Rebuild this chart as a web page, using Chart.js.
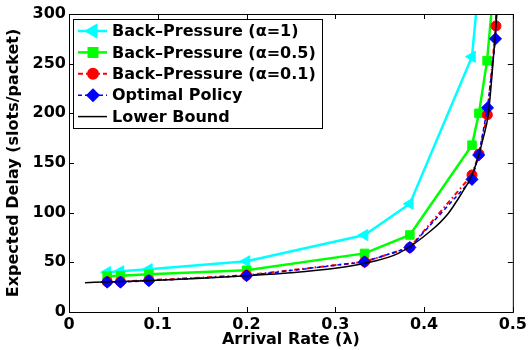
<!DOCTYPE html>
<html>
<head>
<meta charset="utf-8">
<script src="https://cdn.jsdelivr.net/npm/chart.js@4.4.1/dist/chart.umd.min.js"></script>
<style>
  html, body { margin: 0; padding: 0; background: #fff; }
  #wrap { width: 530px; height: 350px; }
</style>
</head>
<body>
<div id="wrap"><canvas id="delayChart"></canvas></div>
<script>
// Values
const seriesLabels = ['Back\u2013Pressure (\u03b1=1)', 'Back\u2013Pressure (\u03b1=0.5)', 'Back\u2013Pressure (\u03b1=0.1)', 'Optimal Policy', 'Lower Bound'];

const lambdaBP1 = [0.043, 0.058, 0.09, 0.2, 0.333, 0.384, 0.454, 0.4627];
const delayBP1 = [40, 41, 43, 51, 77.5, 109, 257, 340];

const lambdaBP05 = [0.043, 0.058, 0.09, 0.2, 0.333, 0.384, 0.454, 0.4618, 0.471, 0.48];
const delayBP05 = [36, 36.5, 38, 42, 59, 77.5, 168, 200, 253, 343];

const lambdaBP01 = [0.043, 0.058, 0.09, 0.2, 0.333, 0.384, 0.454, 0.4619, 0.4713, 0.481, 0.484];
const delayBP01 = [30.5, 30.5, 32, 37, 50.5, 65, 138, 159, 198.5, 288, 520];

const lambdaOpt = [0.043, 0.058, 0.09, 0.2, 0.333, 0.384, 0.454, 0.4615, 0.4715, 0.4805, 0.484];
const delayOpt = [30, 30, 31.5, 36.5, 50.5, 65, 133.5, 158, 205.5, 275, 480];

const lambdaLB = [0.018, 0.05, 0.1, 0.15, 0.2, 0.25, 0.3, 0.333, 0.371, 0.408, 0.427, 0.442, 0.453, 0.461, 0.466, 0.4725, 0.4776, 0.482];
const delayLB = [29.5, 30.5, 32, 34, 36.5, 39.5, 44, 49, 59, 82, 99, 119, 136, 156, 173, 200, 250, 300];

const xTicks = [0, 0.1, 0.2, 0.3, 0.4, 0.5];
const yTicks = [0, 50, 100, 150, 200, 250, 300];

function toPoints(xs, ys) {
  return xs.map((x, i) => ({ x: x, y: ys[i] }));
}

Chart.defaults.font.family = "'DejaVu Sans', sans-serif";
Chart.defaults.font.size = 16;
Chart.defaults.font.weight = 'bold';
Chart.defaults.color = '#000000';

// MATLAB style box with inward ticks on all four sides
const frameTicks = {
  id: 'frameTicks',
  afterDatasetsDraw(chart) {
    const ctx = chart.ctx;
    const a = chart.chartArea;
    const xs = chart.scales.x, ys = chart.scales.y;
    const len = 5;
    ctx.save();
    ctx.strokeStyle = '#000';
    ctx.lineWidth = 1;
    ctx.strokeRect(a.left + 0.5, a.top + 0.5, a.right - a.left, a.bottom - a.top);
    ctx.beginPath();
    xTicks.forEach(v => {
      const px = Math.round(xs.getPixelForValue(v)) + 0.5;
      ctx.moveTo(px, a.bottom); ctx.lineTo(px, a.bottom - len);
      ctx.moveTo(px, a.top); ctx.lineTo(px, a.top + len);
    });
    yTicks.forEach(v => {
      const py = Math.round(ys.getPixelForValue(v)) + 0.5;
      ctx.moveTo(a.left, py); ctx.lineTo(a.left + len, py);
      ctx.moveTo(a.right, py); ctx.lineTo(a.right - len, py);
    });
    ctx.stroke();
    ctx.restore();
  }
};

// Legend box in the top-left corner, line sample with marker
const boxLegend = {
  id: 'boxLegend',
  afterDraw(chart) {
    const ctx = chart.ctx;
    const a = chart.chartArea;
    const left = a.left + 4, top = a.top + 5;
    const w = 249, h = 109;
    ctx.save();
    ctx.fillStyle = '#fff';
    ctx.fillRect(left, top, w, h);
    ctx.strokeStyle = '#000';
    ctx.lineWidth = 1;
    ctx.strokeRect(left + 0.5, top + 0.5, w, h);
    chart.data.datasets.forEach((ds, i) => {
      const y = top + 12 + i * 21.4;
      ctx.save();
      ctx.strokeStyle = ds.borderColor;
      ctx.lineWidth = ds.borderWidth;
      ctx.setLineDash(ds.borderDash || []);
      ctx.beginPath();
      ctx.moveTo(left + 5, y);
      ctx.lineTo(left + 34, y);
      ctx.stroke();
      ctx.setLineDash([]);
      if (ds.pointRadius > 0) {
        ctx.fillStyle = ds.pointBackgroundColor;
        ctx.strokeStyle = ds.pointBorderColor;
        Chart.helpers.drawPoint(ctx, {
          pointStyle: ds.pointStyle,
          radius: ds.pointRadius,
          rotation: ds.pointRotation || 0,
          borderWidth: ds.pointBorderWidth
        }, left + 20, y);
      }
      ctx.restore();
      ctx.fillStyle = '#000';
      ctx.font = "bold 16px 'DejaVu Sans', sans-serif";
      ctx.textAlign = 'left';
      ctx.textBaseline = 'middle';
      ctx.fillText(ds.label, left + 39, y + 1);
    });
    ctx.restore();
  }
};

new Chart(document.getElementById('delayChart'), {
  type: 'line',
  data: {
    datasets: [
      {
        label: seriesLabels[0],
        data: toPoints(lambdaBP1, delayBP1),
        borderColor: '#00FFFF',
        borderWidth: 2.5,
        pointStyle: 'triangle',
        pointRotation: -90,
        pointRadius: 6.5,
        pointBackgroundColor: '#00FFFF',
        pointBorderColor: '#00FFFF',
        pointBorderWidth: 1,
        order: 5
      },
      {
        label: seriesLabels[1],
        data: toPoints(lambdaBP05, delayBP05),
        borderColor: '#00FF00',
        borderWidth: 2.5,
        pointStyle: 'rect',
        pointRadius: 6,
        pointBackgroundColor: '#00FF00',
        pointBorderColor: '#00FF00',
        pointBorderWidth: 1,
        order: 4
      },
      {
        label: seriesLabels[2],
        data: toPoints(lambdaBP01, delayBP01),
        borderColor: '#FF0000',
        borderWidth: 2,
        borderDash: [5, 3, 1.5, 3],
        pointStyle: 'circle',
        pointRadius: 5,
        pointBackgroundColor: '#FF0000',
        pointBorderColor: '#FF0000',
        pointBorderWidth: 1,
        order: 3
      },
      {
        label: seriesLabels[3],
        data: toPoints(lambdaOpt, delayOpt),
        borderColor: '#0000FF',
        borderWidth: 1.5,
        borderDash: [4, 3],
        pointStyle: 'rectRot',
        pointRadius: 6,
        pointBackgroundColor: '#0000FF',
        pointBorderColor: '#0000FF',
        pointBorderWidth: 1,
        order: 2
      },
      {
        label: seriesLabels[4],
        data: toPoints(lambdaLB, delayLB),
        borderColor: '#000000',
        borderWidth: 1.5,
        pointRadius: 0,
        cubicInterpolationMode: 'monotone',
        order: 1
      }
    ]
  },
  options: {
    responsive: true,
    maintainAspectRatio: false,
    animation: false,
    layout: { padding: { top: 14, right: 14, left: 0, bottom: 0 } },
    plugins: {
      legend: { display: false },
      tooltip: { enabled: false }
    },
    scales: {
      x: {
        type: 'linear',
        min: 0,
        max: 0.5,
        afterFit: s => { s.height = 38; },
        afterBuildTicks: s => { s.ticks = xTicks.map(v => ({ value: v })); },
        ticks: {
          padding: 3,
          maxRotation: 0,
          callback: v => String(v)
        },
        grid: { display: false, drawTicks: false },
        border: { display: false },
        title: {
          display: true,
          text: 'Arrival Rate (\u03bb)',
          padding: { top: 0, bottom: 1 }
        }
      },
      y: {
        type: 'linear',
        min: 0,
        max: 300,
        afterFit: s => { s.width = 69; },
        afterBuildTicks: s => { s.ticks = yTicks.map(v => ({ value: v })); },
        ticks: {
          padding: 3,
          callback: v => String(v)
        },
        grid: { display: false, drawTicks: false },
        border: { display: false },
        title: {
          display: true,
          text: 'Expected Delay (slots/packet)',
          padding: { top: 4, bottom: 0 }
        }
      }
    }
  },
  plugins: [frameTicks, boxLegend]
});
</script>
</body>
</html>
